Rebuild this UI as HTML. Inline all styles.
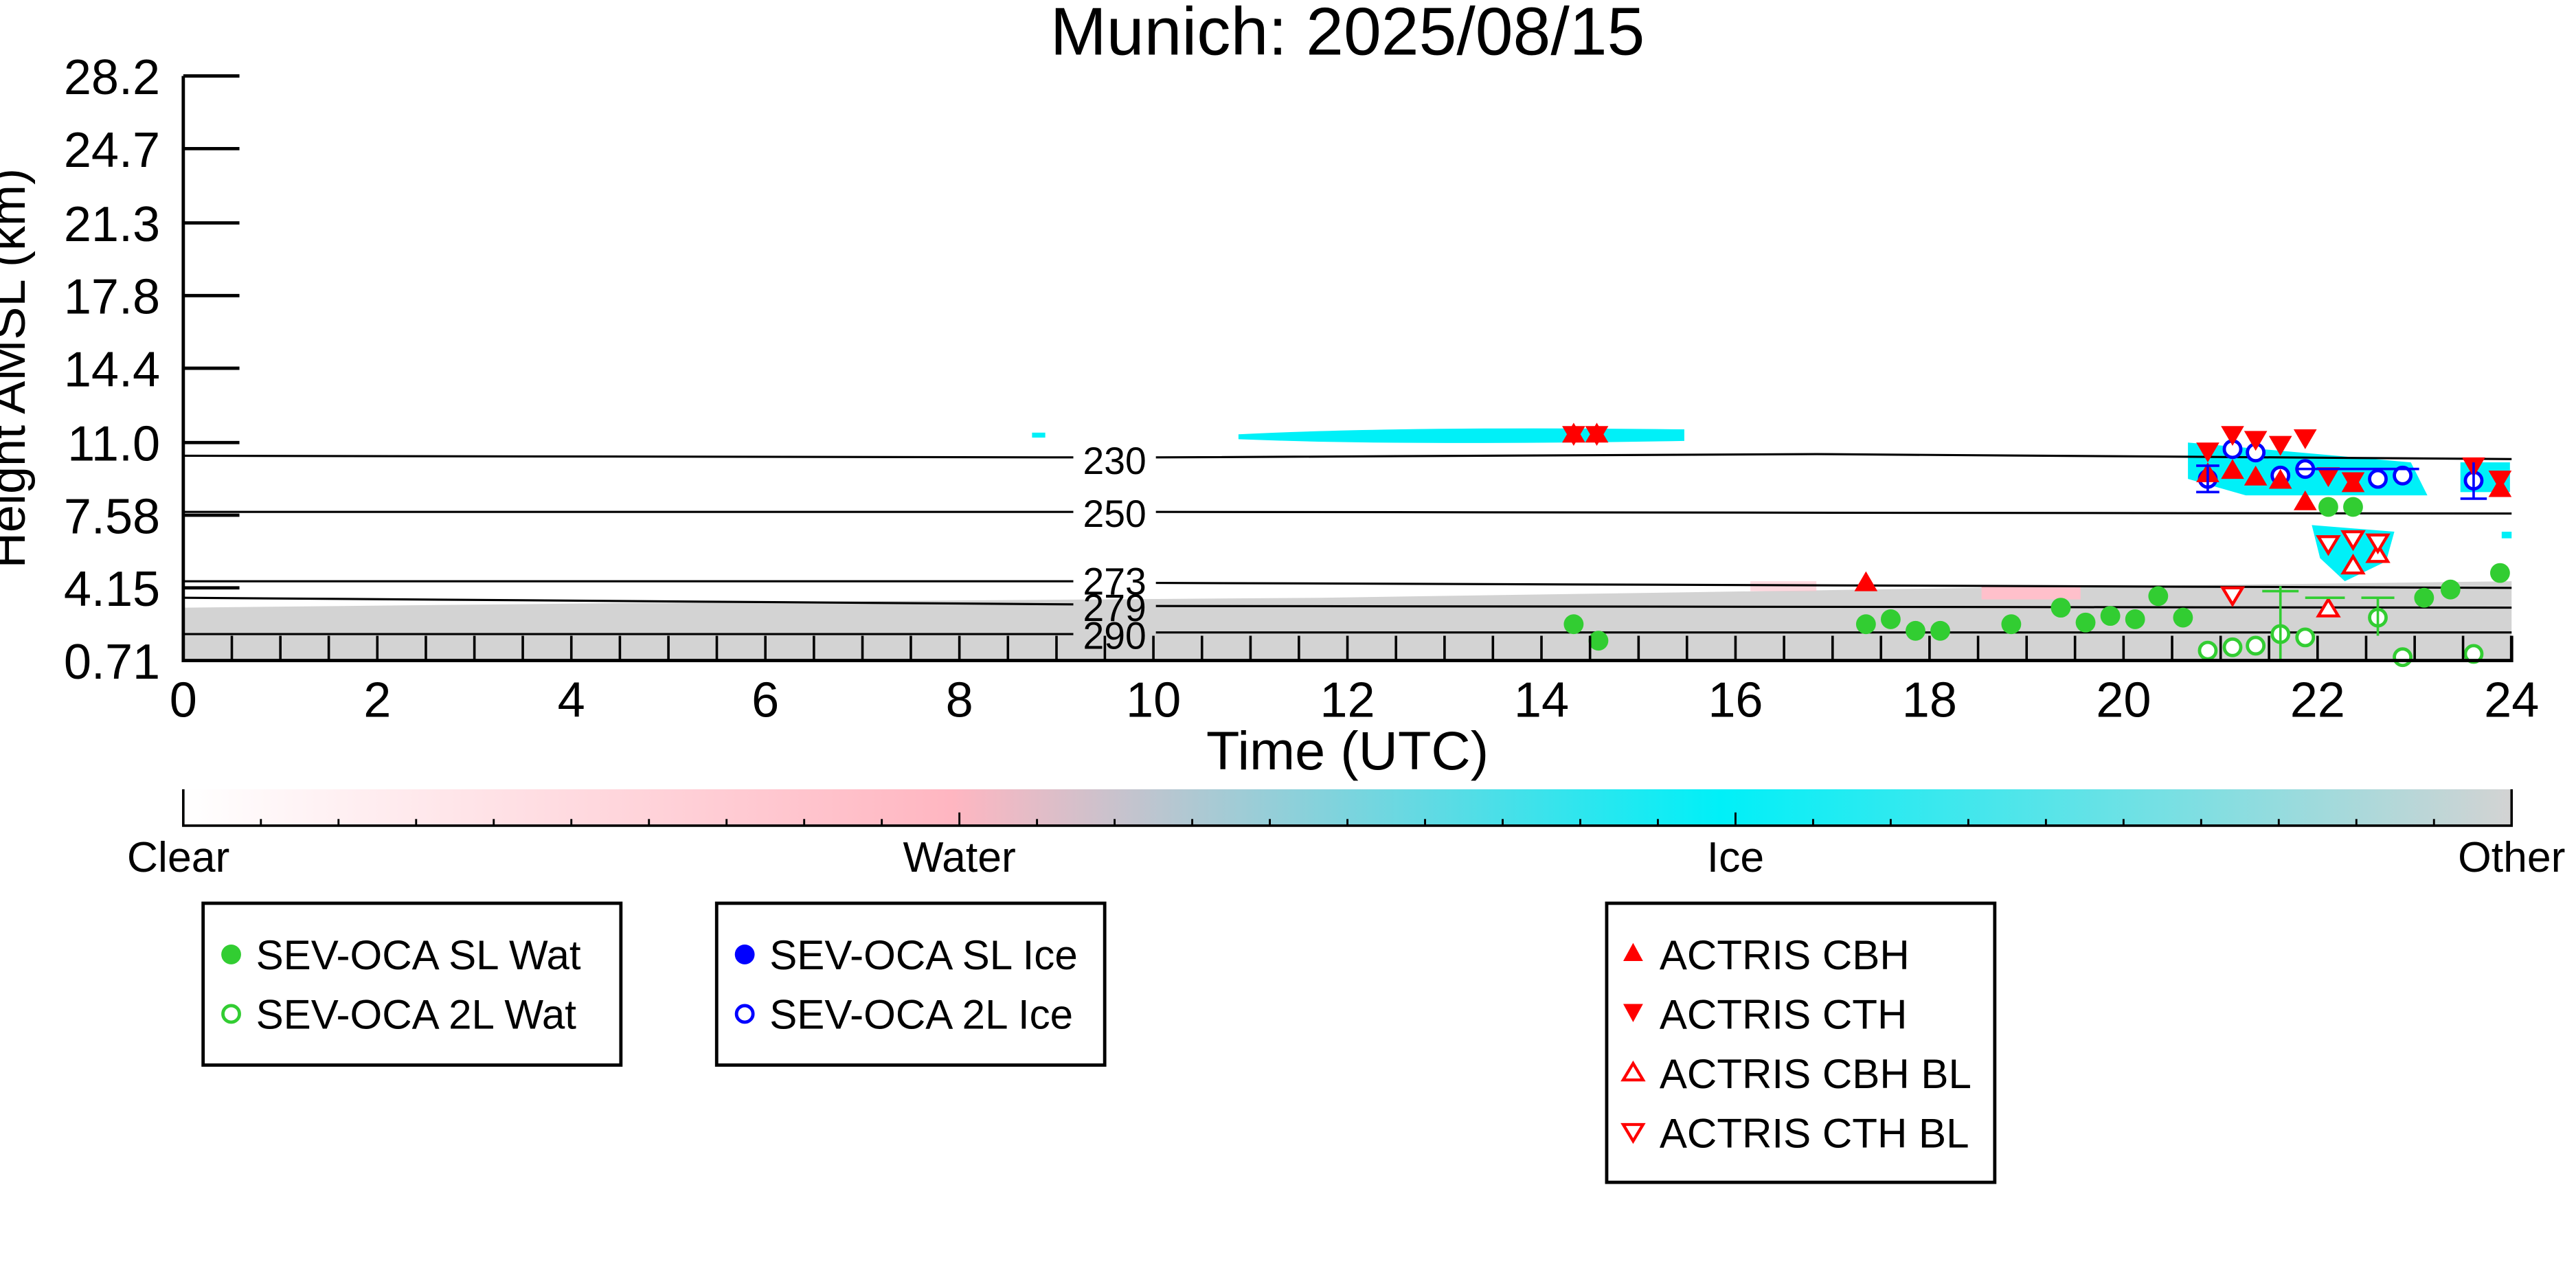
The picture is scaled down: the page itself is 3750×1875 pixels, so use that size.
<!DOCTYPE html>
<html><head><meta charset="utf-8"><style>
html,body{margin:0;padding:0;background:#fff;}
svg{display:block;}
text{font-family:"Liberation Sans","DejaVu Sans",sans-serif;}
</style></head><body>
<svg width="3750" height="1875" viewBox="0 0 1560 780" xmlns="http://www.w3.org/2000/svg">
<defs>
<linearGradient id="cb" x1="0" x2="1" y1="0" y2="0">
<stop offset="0" stop-color="#ffffff"/>
<stop offset="0.33" stop-color="#ffb6c1"/>
<stop offset="0.66" stop-color="#00f0f8"/>
<stop offset="1" stop-color="#d3d3d3"/>
</linearGradient>
</defs>
<text x="816" y="33" font-size="41" text-anchor="middle">Munich: 2025/08/15</text>
<path d="M111,368 L400,365 L800,362 L1200,356 L1521,352 L1521,400 L111,400 Z" fill="#d3d3d3"/>
<rect x="1200" y="355" width="60" height="8" fill="#ffc0cb"/>
<rect x="1060" y="352" width="40" height="6" fill="#ffc0cb" opacity="0.6"/>
<path d="M750,263 Q850,258 1020,260 L1020,267 Q850,270 750,266 Z" fill="#00f0f8"/>
<rect x="625" y="262" width="8" height="3" fill="#00f0f8"/>
<path d="M1325,268 L1460,280 L1470,300 L1360,300 L1325,290 Z" fill="#00f0f8"/>
<path d="M1400,318 L1450,322 L1445,340 L1420,352 L1405,338 Z" fill="#00f0f8"/>
<rect x="1490" y="280" width="30" height="18" fill="#00f0f8"/>
<rect x="1515" y="322" width="6" height="4" fill="#00f0f8"/>
<g fill="none" stroke="#000" stroke-width="1.3">
<path d="M111,276 L650,277 M700,277 L1100,275 L1521,278"/>
<path d="M111,310 L650,310 M700,310 L1521,311"/>
<path d="M111,352 L650,352 M700,353 L1521,356"/>
<path d="M111,362 L650,366 M700,367 L1521,368"/>
<path d="M111,384 L650,384 M700,383 L1521,383"/>
</g>
<g font-size="23" text-anchor="middle">
<text x="675" y="287">230</text><text x="675" y="319">250</text>
<text x="675" y="360">273</text><text x="675" y="376">279</text><text x="675" y="393">290</text>
</g>
<g fill="#32cd32">
<circle cx="953" cy="378" r="6"/><circle cx="968" cy="388" r="6"/><circle cx="1130" cy="378" r="6"/><circle cx="1145" cy="375" r="6"/>
<circle cx="1160" cy="382" r="6"/><circle cx="1175" cy="382" r="6"/><circle cx="1218" cy="378" r="6"/><circle cx="1248" cy="368" r="6"/>
<circle cx="1263" cy="377" r="6"/><circle cx="1278" cy="373" r="6"/><circle cx="1293" cy="375" r="6"/><circle cx="1307" cy="361" r="6"/>
<circle cx="1322" cy="374" r="6"/><circle cx="1410" cy="307" r="6"/><circle cx="1425" cy="307" r="6"/><circle cx="1468" cy="362" r="6"/>
<circle cx="1484" cy="357" r="6"/><circle cx="1514" cy="347" r="6"/>
</g>
<g fill="#fff" stroke="#32cd32" stroke-width="2">
<circle cx="1337" cy="394" r="5"/><circle cx="1352" cy="392" r="5"/><circle cx="1366" cy="391" r="5"/><circle cx="1381" cy="384" r="5"/>
<circle cx="1396" cy="386" r="5"/><circle cx="1440" cy="374" r="5"/><circle cx="1455" cy="398" r="5"/><circle cx="1498" cy="396" r="5"/>
</g>
<g fill="#fff" stroke="#0000ff" stroke-width="2">
<circle cx="1337" cy="290" r="5"/><circle cx="1352" cy="272" r="5"/><circle cx="1366" cy="274" r="5"/><circle cx="1381" cy="288" r="5"/>
<circle cx="1396" cy="284" r="5"/><circle cx="1440" cy="290" r="5"/><circle cx="1455" cy="288" r="5"/><circle cx="1498" cy="291" r="5"/>
</g>
<g fill="#f00">
<path d="M953,256 L946,268 L960,268Z M967,256 L960,268 L974,268Z"/>
<path d="M946,258 L960,258 L953,270Z M960,258 L974,258 L967,270Z"/>
<path d="M1130,346 L1123,358 L1137,358Z"/>
<path d="M1337,280 L1330,292 L1344,292Z M1352,278 L1345,290 L1359,290Z M1366,282 L1359,294 L1373,294Z M1381,284 L1374,296 L1388,296Z M1396,297 L1389,309 L1403,309Z M1425,286 L1418,298 L1432,298Z M1514,289 L1507,301 L1521,301Z"/>
<path d="M1330,268 L1344,268 L1337,280Z M1345,258 L1359,258 L1352,270Z M1359,261 L1373,261 L1366,273Z M1374,264 L1388,264 L1381,276Z M1389,260 L1403,260 L1396,272Z M1403,283 L1417,283 L1410,295Z M1418,286 L1432,286 L1425,298Z M1491,277 L1505,277 L1498,289Z M1507,285 L1521,285 L1514,297Z"/>
</g>
<g fill="#fff" stroke="#f00" stroke-width="1.8">
<path d="M1410,363 L1404,373 L1416,373Z M1425,337 L1419,347 L1431,347Z M1440,330 L1434,340 L1446,340Z"/>
<path d="M1346,356 L1358,356 L1352,366Z M1404,325 L1416,325 L1410,335Z M1419,322 L1431,322 L1425,332Z M1434,324 L1446,324 L1440,334Z"/>
</g>
<g stroke="#32cd32" stroke-width="1.5" fill="none">
<path d="M1330,400 L1344,400 M1381,355 L1381,400 M1370,358 L1392,358 M1440,362 L1440,385 M1430,362 L1450,362 M1396,362 L1420,362"/>
</g>
<g stroke="#0000ff" stroke-width="1.5" fill="none">
<path d="M1337,282 L1337,298 M1330,298 L1344,298 M1330,282 L1344,282 M1498,280 L1498,302 M1490,302 L1506,302 M1390,284 L1465,284"/>
</g>
<g stroke="#000" stroke-width="2" fill="none">
<path d="M111,46 L111,400 L1521,400 L1521,385"/>
<path d="M111,46 L145,46 M111,90 L145,90 M111,135 L145,135 M111,179 L145,179 M111,223 L145,223 M111,268 L145,268 M111,312 L145,312 M111,356 L145,356"/>
</g>
<g stroke="#000" stroke-width="1.5">
<path d="M140.4,400v-15M169.8,400v-15M199.1,400v-15M228.5,400v-15M257.9,400v-15M287.3,400v-15M316.6,400v-15M346,400v-15M375.4,400v-15M404.8,400v-15M434.1,400v-15M463.5,400v-15M492.9,400v-15M522.3,400v-15M551.6,400v-15M581,400v-15M610.4,400v-15M639.8,400v-15M669.1,400v-15M698.5,400v-15M727.9,400v-15M757.3,400v-15M786.6,400v-15M816,400v-15M845.4,400v-15M874.8,400v-15M904.1,400v-15M933.5,400v-15M962.9,400v-15M992.3,400v-15M1021.6,400v-15M1051,400v-15M1080.4,400v-15M1109.8,400v-15M1139.1,400v-15M1168.5,400v-15M1197.9,400v-15M1227.3,400v-15M1256.6,400v-15M1286,400v-15M1315.4,400v-15M1344.8,400v-15M1374.1,400v-15M1403.5,400v-15M1432.9,400v-15M1462.3,400v-15M1491.6,400v-15"/>
</g>
<g font-size="30" text-anchor="end">
<text x="97" y="57">28.2</text><text x="97" y="101">24.7</text><text x="97" y="146">21.3</text><text x="97" y="190">17.8</text>
<text x="97" y="234">14.4</text><text x="97" y="279">11.0</text><text x="97" y="323">7.58</text><text x="97" y="367">4.15</text><text x="97" y="411">0.71</text>
</g>
<text transform="translate(15,223) rotate(-90)" font-size="30" text-anchor="middle">Height AMSL (km)</text>
<g font-size="30" text-anchor="middle">
<text x="111" y="434">0</text><text x="228.5" y="434">2</text><text x="346" y="434">4</text><text x="463.5" y="434">6</text>
<text x="581" y="434">8</text><text x="698.5" y="434">10</text><text x="816" y="434">12</text><text x="933.5" y="434">14</text>
<text x="1051" y="434">16</text><text x="1168.5" y="434">18</text><text x="1286" y="434">20</text><text x="1403.5" y="434">22</text><text x="1521" y="434">24</text>
</g>
<text x="816" y="466" font-size="33" text-anchor="middle">Time (UTC)</text>
<rect x="111" y="478" width="1410" height="22" fill="url(#cb)"/>
<path d="M111,478 L111,500 L1521,500 L1521,478" stroke="#000" stroke-width="1.5" fill="none"/>
<g stroke="#000" stroke-width="1.2">
<path d="M158,500v-4M205,500v-4M252,500v-4M299,500v-4M346,500v-4M393,500v-4M440,500v-4M487,500v-4M534,500v-4M628,500v-4M675,500v-4M722,500v-4M769,500v-4M816,500v-4M863,500v-4M910,500v-4M957,500v-4M1004,500v-4M1098,500v-4M1145,500v-4M1192,500v-4M1239,500v-4M1286,500v-4M1333,500v-4M1380,500v-4M1427,500v-4M1474,500v-4M581,500v-8M1051,500v-8"/>
</g>
<g font-size="26" text-anchor="middle">
<text x="108" y="528">Clear</text><text x="581" y="528">Water</text><text x="1051" y="528">Ice</text><text x="1521" y="528">Other</text>
</g>
<g stroke="#000" stroke-width="2" fill="#fff">
<rect x="123" y="547" width="253" height="98"/>
<rect x="434" y="547" width="235" height="98"/>
<rect x="973" y="547" width="235" height="169"/>
</g>
<g font-size="25">
<circle cx="140" cy="578" r="6" fill="#32cd32"/><text x="155" y="587">SEV-OCA SL Wat</text>
<circle cx="140" cy="614" r="5" fill="#fff" stroke="#32cd32" stroke-width="2"/><text x="155" y="623">SEV-OCA 2L Wat</text>
<circle cx="451" cy="578" r="6" fill="#0000ff"/><text x="466" y="587">SEV-OCA SL Ice</text>
<circle cx="451" cy="614" r="5" fill="#fff" stroke="#0000ff" stroke-width="2"/><text x="466" y="623">SEV-OCA 2L Ice</text>
<path d="M989,571 L983,582 L995,582Z" fill="#f00"/><text x="1005" y="587">ACTRIS CBH</text>
<path d="M983,608 L995,608 L989,619Z" fill="#f00"/><text x="1005" y="623">ACTRIS CTH</text>
<path d="M989,644 L983,654 L995,654Z" fill="#fff" stroke="#f00" stroke-width="1.8"/><text x="1005" y="659">ACTRIS CBH BL</text>
<path d="M983,681 L995,681 L989,691Z" fill="#fff" stroke="#f00" stroke-width="1.8"/><text x="1005" y="695">ACTRIS CTH BL</text>
</g>
</svg>
</body></html>
